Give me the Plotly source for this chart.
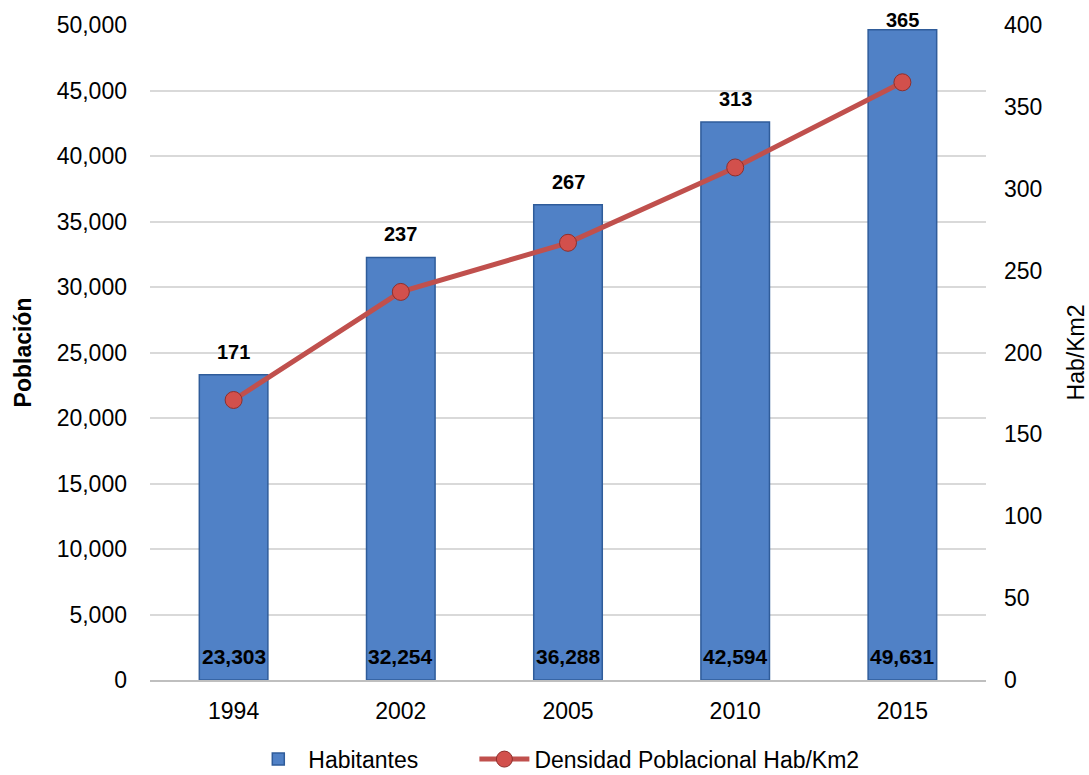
import plotly.graph_objects as go

years = ["1994", "2002", "2005", "2010", "2015"]
habitantes = [23303, 32254, 36288, 42594, 49631]
densidad = [171, 237, 267, 313, 365]

left_ticks = list(range(0, 50001, 5000))
right_ticks = list(range(0, 401, 50))

Y_MAX = 50000
FONT = "Liberation Sans, Arial, sans-serif"
LABEL_FONT = dict(family=FONT, size=20, color="black", weight="bold")
NBSP = "\u00a0"

fig = go.Figure()

# Population bars (trailing non-breaking spaces widen the legend gap)
fig.add_trace(go.Bar(
    x=years, y=habitantes, name="Habitantes" + NBSP * 8,
    width=0.41,
    marker=dict(color="#5081c6", line=dict(color="#2f5c9a", width=1.5)),
    yaxis="y",
    hoverinfo="x+y",
))

# Density line on the secondary axis
fig.add_trace(go.Scatter(
    x=years, y=densidad, name="Densidad Poblacional Hab/Km2",
    mode="lines+markers", yaxis="y2",
    line=dict(color="#c0504d", width=5),
    marker=dict(size=17, color="#d2504c", line=dict(color="#8e2f2c", width=1)),
    cliponaxis=False,
))

annotations = []
for i, (pop, dens) in enumerate(zip(habitantes, densidad)):
    # density value above the bar (x given as category index);
    # a bar that nearly reaches the top keeps its label inside the figure
    shift = -3 if pop > 0.95 * Y_MAX else 10
    annotations.append(dict(
        x=i, y=pop, xref="x", yref="y", text=str(dens),
        showarrow=False, yanchor="bottom", yshift=shift, font=LABEL_FONT,
    ))
    # population value at the base of the bar
    annotations.append(dict(
        x=i, y=0, xref="x", yref="y", text=f"{pop:,}",
        showarrow=False, yanchor="bottom", yshift=10,
        font=dict(LABEL_FONT, size=21),
    ))

fig.update_layout(
    width=1089, height=775,
    margin=dict(l=150, r=103, t=25, b=95, autoexpand=False),
    paper_bgcolor="white", plot_bgcolor="white",
    font=dict(family=FONT, size=23, color="black"),
    annotations=annotations,
    xaxis=dict(
        type="category", range=[-0.5, 4.5], showgrid=False,
        showline=True, linecolor="#bfbfbf", linewidth=1.5,
        ticks="", tickfont=dict(size=23), ticklabelstandoff=10,
    ),
    yaxis=dict(
        range=[0, Y_MAX], tickvals=left_ticks, tickformat=",",
        showgrid=True, gridcolor="#d9d9d9", gridwidth=1.5,
        zeroline=False, showline=False, ticks="",
        ticklabelstandoff=22, tickfont=dict(size=23),
        title=dict(text="<b>Población</b>", font=dict(size=23), standoff=18),
    ),
    yaxis2=dict(
        range=[0, 400], tickvals=right_ticks, overlaying="y", side="right",
        showgrid=False, zeroline=False, showline=False, ticks="",
        ticklabelstandoff=17, tickfont=dict(size=23),
        title=dict(text="Hab/Km2", font=dict(size=23), standoff=30),
    ),
    legend=dict(
        orientation="h", x=0.486, xanchor="center", y=-0.088, yanchor="top",
        font=dict(size=23), itemwidth=50,
    ),
)

fig.write_html("out.html")
